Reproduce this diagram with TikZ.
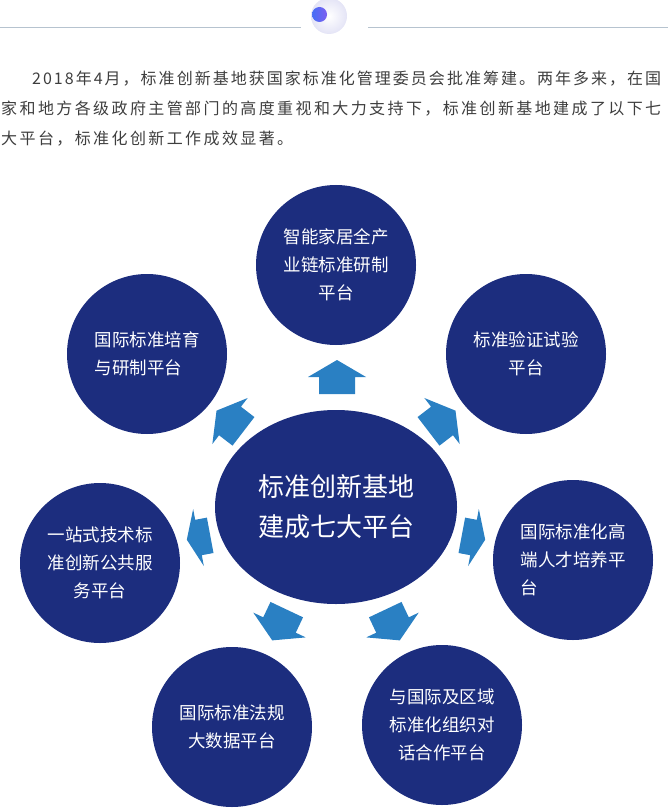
\documentclass[tikz,border=0pt]{standalone}
\usepackage{fontspec}
\newfontfamily\cjk{Noto Sans CJK SC}
\newfontfamily\cjkpara[LetterSpace=15]{Noto Sans CJK SC}
\newfontfamily\cjkparatight[LetterSpace=12.6]{Noto Sans CJK SC}
\usepackage{tikz}
\usetikzlibrary{shapes.geometric}
\definecolor{navy}{RGB}{28,45,126}
\definecolor{arrowblue}{RGB}{42,128,195}
\definecolor{rulegray}{RGB}{182,195,207}
\definecolor{textgray}{RGB}{62,62,62}
\definecolor{dotblue}{RGB}{70,110,245}
\definecolor{dotviolet}{RGB}{125,95,240}
\definecolor{glow}{RGB}{228,228,246}

\begin{document}
\begin{tikzpicture}[x=1pt, y=-1pt,
	platform/.style={circle, fill=navy, minimum size=160pt, inner sep=0pt, text=white, font=\cjk\fontsize{17.5}{28}\selectfont},
	hubnode/.style={ellipse, fill=navy, minimum width=242pt, minimum height=194pt, inner sep=0pt, align=center, text=white, font=\cjk\fontsize{26}{40}\selectfont},
	para/.style={anchor=west, inner sep=0pt, text=textgray, font=\cjkpara\fontsize{16}{30}\selectfont},
	blockarrow/.pic={\fill[arrowblue] (-17,-18) -- (0,-18) -- (0,-29) -- (17,0) -- (0,29) -- (0,18) -- (-17,18) -- cycle;}]
			\useasboundingbox (0,0) rectangle (668,810);
			% Header rule and dot
			\draw[rulegray, line width=1pt] (0,28) -- (301,28);
			\draw[rulegray, line width=1pt] (368,28) -- (668,28);
			\shade[inner color=white, outer color=glow] (329,16) circle (18pt);
			\shade[left color=dotblue, right color=dotviolet] (319.5,14.5) circle (7.5pt);
			
			% Intro text
			\node[para, font=\cjkparatight\fontsize{16}{30}\selectfont] at (32,79) (para1) {2018年4月，标准创新基地获国家标准化管理委员会批准筹建。两年多来，在国};
			\node[para] at (1,109) (para2) {家和地方各级政府主管部门的高度重视和大力支持下，标准创新基地建成了以下七};
			\node[para] at (1,139) (para3) {大平台，标准化创新工作成效显著。};
			
			% Define platforms
			\node[hubnode] at (336,507) (hub) {标准创新基地\\建成七大平台};
			\node[platform, align=center] at (336,265) (top) {智能家居全产\\业链标准研制\\平台};
			\node[platform, align=left] at (147,354) (upleft) {国际标准培育\\与研制平台};
			\node[platform, align=center] at (526,354) (upright) {标准验证试验\\平台};
			\node[platform, align=center] at (100,563) (left) {一站式技术标\\准创新公共服\\务平台};
			\node[platform, align=left] at (573,560) (right) {国际标准化高\\端人才培养平\\台};
			\node[platform, align=center] at (232,727) (downleft) {国际标准法规\\大数据平台};
			\node[platform, align=center] at (442,725) (downright) {与国际及区域\\标准化组织对\\话合作平台};
			
			% Draw arrows from hub to platforms
			\pic[rotate=90] at (337,377) {blockarrow};
			\pic[rotate=142.5] at (230,421) {blockarrow};
			\pic[rotate=37.5] at (442,421) {blockarrow};
			\pic[rotate=190.6, xscale=0.7] at (198.5,537.5) {blockarrow};
			\pic[rotate=-10.6, xscale=0.7] at (473.5,537.5) {blockarrow};
			\pic[rotate=-115.3] at (279.5,625) {blockarrow};
			\pic[rotate=-64.7] at (392.5,625) {blockarrow};
		\end{tikzpicture}
\end{document}
